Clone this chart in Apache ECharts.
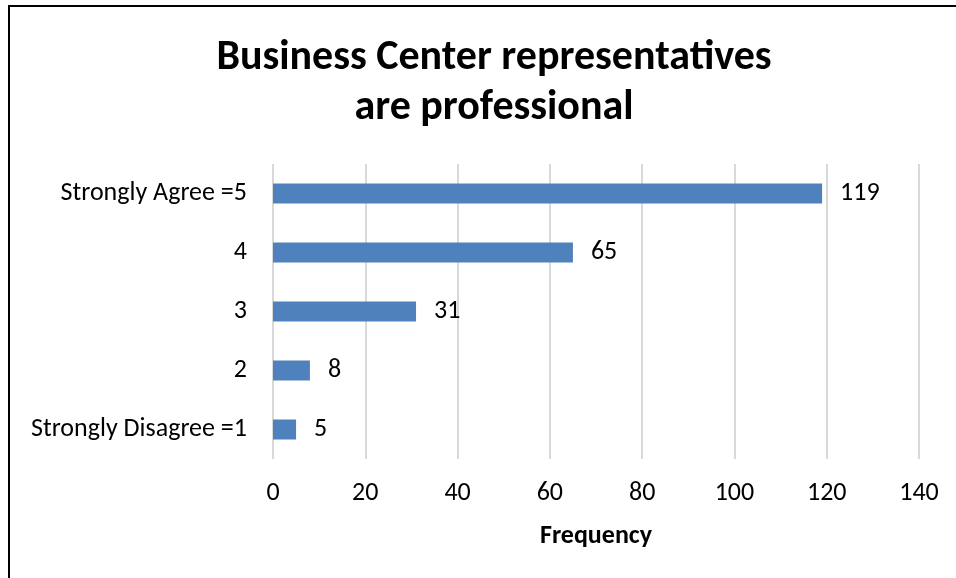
<!DOCTYPE html>
<html>
<head>
<meta charset="utf-8">
<script src="https://cdn.jsdelivr.net/npm/echarts@6/dist/echarts.min.js"></script>
<style>
  html, body { margin: 0; padding: 0; background: #fff; }
  #chart { width: 956px; height: 578px; }
</style>
</head>
<body>
<div id="chart"></div>
<script>
// Survey responses: rating categories (bottom to top) and their counts
const categories = ['Strongly Disagree =1', '2', '3', '4', 'Strongly Agree =5'];
const frequencies = [5, 8, 31, 65, 119];
const xTicks = [0, 20, 40, 60, 80, 100, 120, 140];

const FONT = 'Carlito, "Open Sans", sans-serif';

const chart = echarts.init(document.getElementById('chart'), null, { renderer: 'canvas' });

chart.setOption({
  backgroundColor: '#ffffff',
  animation: false,
  title: {
    text: 'Business Center representatives\nare professional',
    left: 489,
    top: 28,
    textAlign: 'center',
    textStyle: {
      fontFamily: FONT,
      fontSize: 42,
      fontWeight: 'bold',
      color: '#000',
      lineHeight: 50
    }
  },
  graphic: [
    {
      type: 'polyline',
      shape: { points: [[9, 600], [9, 6], [960, 6]] },
      style: { stroke: '#000', lineWidth: 2, fill: null }
    }
  ],
  grid: { left: 273, right: 37, top: 164, bottom: 119, containLabel: false },
  xAxis: {
    type: 'value',
    min: xTicks[0],
    max: xTicks[xTicks.length - 1],
    interval: 20,
    name: 'Frequency',
    nameLocation: 'middle',
    nameGap: 64,
    nameTextStyle: { fontFamily: FONT, fontSize: 26, fontWeight: 'bold', color: '#000' },
    axisLine: { show: false },
    axisTick: { show: false },
    axisLabel: { fontFamily: FONT, fontSize: 26, color: '#000', margin: 21 },
    splitLine: { show: true, lineStyle: { color: '#d9d9d9', width: 2 } }
  },
  yAxis: {
    type: 'category',
    data: categories,
    axisLine: { show: false },
    axisTick: { show: false },
    axisLabel: { fontFamily: FONT, fontSize: 26, color: '#000', margin: 26 }
  },
  series: [{
    type: 'bar',
    data: frequencies,
    barWidth: 20,
    itemStyle: { color: '#4f81bd' },
    label: {
      show: true,
      position: 'right',
      distance: 18,
      fontFamily: FONT,
      fontSize: 26,
      color: '#000'
    }
  }]
});
</script>
</body>
</html>
